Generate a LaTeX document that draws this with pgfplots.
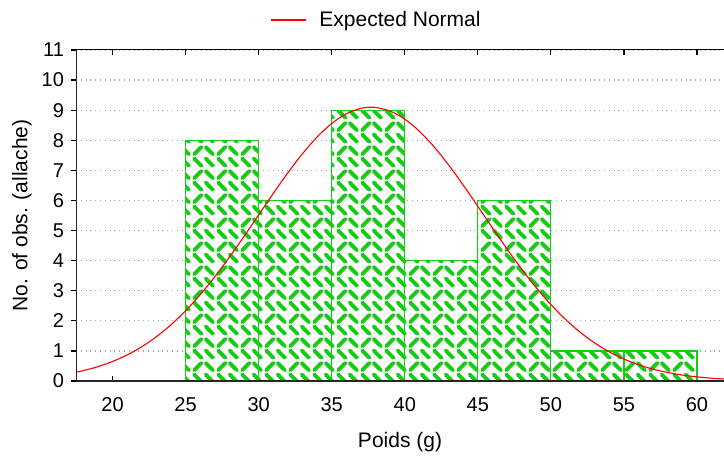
\documentclass[border=0pt]{standalone}
\usepackage{pgfplots}
\pgfplotsset{compat=1.18}
\usetikzlibrary{patterns,patterns.meta}
\usepackage{fontspec}
\setmainfont{Liberation Sans}
\definecolor{ggreen}{RGB}{20,205,20}
\definecolor{gridgray}{RGB}{165,165,165}
\tikzdeclarepattern{
  name=weave,
  type=uncolored,
  bottom left={(0pt,0pt)},
  top right={(12pt,12pt)},
  tile size={(12pt,12pt)},
  code={
    \draw[line width=2pt, line cap=round] (1.1pt,4.9pt) -- (4.9pt,1.1pt);
    \draw[line width=2pt, line cap=round] (7.1pt,10.9pt) -- (10.9pt,7.1pt);
    \draw[line width=2pt, line cap=round] (7.1pt,4.9pt) -- (10.9pt,1.1pt);
    \draw[line width=2pt, line cap=round] (1.1pt,7.1pt) -- (4.9pt,10.9pt);
  }
}
\begin{document}
\begin{tikzpicture}
\begin{axis}[
  name=ax,
  scale only axis,
  width=324pt, height=165.5pt,
  xmin=17.5, xmax=61.85,
  ymin=0, ymax=11,
  xtick={20,25,...,60},
  ytick={0,1,...,11},
  axis x line=box,
  axis y line=left,
  axis line style={-, line width=0.5pt, black},
  xtick align=inside,
  ytick align=outside,
  major tick length=2.5pt,
  tick style={black, line width=0.6pt},
  ymajorgrids,
  grid style={gridgray, dotted, line width=0.6pt},
  font=\fontsize{10.5}{12}\selectfont,
  tick label style={font=\fontsize{10}{12}\selectfont},
  /pgf/number format/assume math mode=true,
  xticklabel style={anchor=center, yshift=-12pt},
  yticklabel style={anchor=east},
  xlabel={Poids (g)},
  ylabel={No. of obs. (allache)},
  xlabel style={at={(rel axis cs:0.5,0)}, anchor=center, yshift=-30.5pt},
  ylabel style={at={(rel axis cs:0,0.5)}, anchor=center, yshift=27pt},
  legend style={at={(rel axis cs:0.462,1)}, anchor=center, xshift=1pt, yshift=15pt, draw=none, fill=none, column sep=3.5pt, font=\fontsize{10.5}{12}\selectfont},
  legend image code/.code={\draw[red, line width=0.7pt] (0pt,0pt) -- (17.5pt,0pt); \path (18.5pt,0pt);},
]
\addplot[ybar, bar width=5, bar shift=0pt, draw=ggreen, line width=0.6pt, fill=white,
  postaction={pattern=weave, pattern color=ggreen}, forget plot]
  coordinates {(27.5,8) (32.5,6) (37.5,9) (42.5,4) (47.5,6) (52.5,1) (57.5,1)};
\addplot[red, line width=0.55pt, smooth, no marks] coordinates {
(17.5,0.2915) (18,0.3449) (19,0.4768) (20,0.6481) (21,0.8662) (22,1.1384)
(23,1.471) (24,1.869) (25,2.335) (26,2.869) (27,3.465) (28,4.116) (29,4.807)
(30,5.519) (31,6.232) (32,6.919) (33,7.553) (34,8.108) (35,8.557) (36,8.881)
(37,9.062) (37.7,9.1) (38,9.093) (39,8.971) (40,8.703) (41,8.301) (42,7.786)
(43,7.180) (44,6.512) (45,5.806) (46,5.090) (47,4.388) (48,3.720) (49,3.100)
(50,2.541) (51,2.047) (52,1.622) (53,1.264) (54,0.968) (55,0.729) (56,0.540)
(57,0.393) (58,0.282) (59,0.198) (60,0.137) (61,0.0935) (62,0.0626)};
\addlegendentry{Expected Normal}
\draw[line width=1.1pt, black!85] (rel axis cs:0,1) -- (rel axis cs:0,0) -- (rel axis cs:1,0);
\end{axis}
\pgfresetboundingbox
\path ([xshift=-38pt,yshift=-37pt]ax.south west) rectangle ([yshift=25pt]ax.north east);
\end{tikzpicture}
\end{document}
